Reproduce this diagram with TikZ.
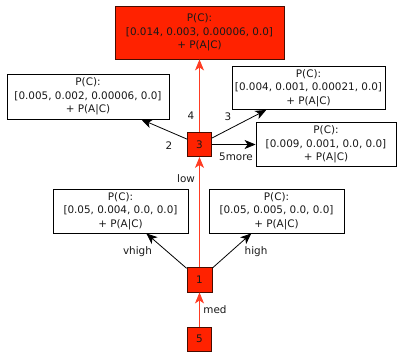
\documentclass[tikz,border=0pt]{standalone}
\usepackage{fontspec}
\setmainfont{DejaVu Sans}
\usetikzlibrary{arrows.meta}
\definecolor{boxred}{RGB}{255,34,0}
\definecolor{edgered}{RGB}{255,60,35}
\definecolor{darkborder}{RGB}{70,12,0}
\definecolor{txt}{RGB}{25,25,25}
\begin{document}
\begin{tikzpicture}[x=1pt,y=-1pt,
  font=\fontsize{10.4}{13.5}\selectfont,
  text=txt,
  pbox/.style={draw=black, line width=0.8pt, fill=white, align=center, inner sep=0pt, minimum width=#1, minimum height=44pt},
  topbox/.style={draw=darkborder, line width=0.9pt, fill=boxred, align=center, inner sep=0pt, minimum width=169pt, minimum height=53pt},
  state/.style={draw=darkborder, line width=0.9pt, fill=boxred, inner sep=0pt, minimum width=#1, minimum height=#1},
  redarrow/.style={draw=edgered, line width=0.9pt, -{Stealth[length=11pt,width=9pt,inset=3pt]}},
  blackarrow/.style={draw=black, line width=0.8pt, -{Stealth[length=11pt,width=9pt,inset=3pt]}},
  elabel/.style={inner sep=0pt}
]
\useasboundingbox (0,0) rectangle (397,352);

\node[topbox] (T) at (199.5,32.5) {P(C):\\{}[0.014, 0.003, 0.00006, 0.0]\\+ P(A|C)};
\node[pbox=162pt, minimum height=45pt] (L) at (88,96.5) {P(C):\\{}[0.005, 0.002, 0.00006, 0.0]\\+ P(A|C)};
\node[pbox=153pt, minimum height=43pt] (R) at (308.5,88) {P(C):\\{}[0.004, 0.001, 0.00021, 0.0]\\+ P(A|C)};
\node[pbox=140pt] (R2) at (326,144.5) {P(C):\\{}[0.009, 0.001, 0.0, 0.0]\\+ P(A|C)};
\node[pbox=135pt] (V) at (120.5,211) {P(C):\\{}[0.05, 0.004, 0.0, 0.0]\\+ P(A|C)};
\node[pbox=135pt] (H) at (276.5,211) {P(C):\\{}[0.05, 0.005, 0.0, 0.0]\\+ P(A|C)};

\node[state=24pt] (n3) at (199.5,144.5) {3};
\node[state=25pt] (n1) at (199.5,279.5) {1};
\node[state=24pt] (n5) at (199.5,339) {5};

\draw[redarrow] (n5) -- (n1);
\draw[redarrow] (n1) -- (n3);
\draw[redarrow] (n3) -- (T);
\draw[blackarrow] (n3) -- (L);
\draw[blackarrow] (n3) -- (R);
\draw[blackarrow] (n3) -- (R2);
\draw[blackarrow] (n1) -- (V);
\draw[blackarrow] (n1) -- (H);

\node[elabel] (l4) at (191,116) {4};
\node[elabel] (l3) at (228,117) {3};
\node[elabel] (l2) at (169,146) {2};
\node[elabel] (l5more) at (236,157) {5more};
\node[elabel] (llow) at (186,179) {low};
\node[elabel] (lvhigh) at (137.5,252) {vhigh};
\node[elabel] (lhigh) at (256,252) {high};
\node[elabel] (lmed) at (215,310) {med};
\end{tikzpicture}
\end{document}
